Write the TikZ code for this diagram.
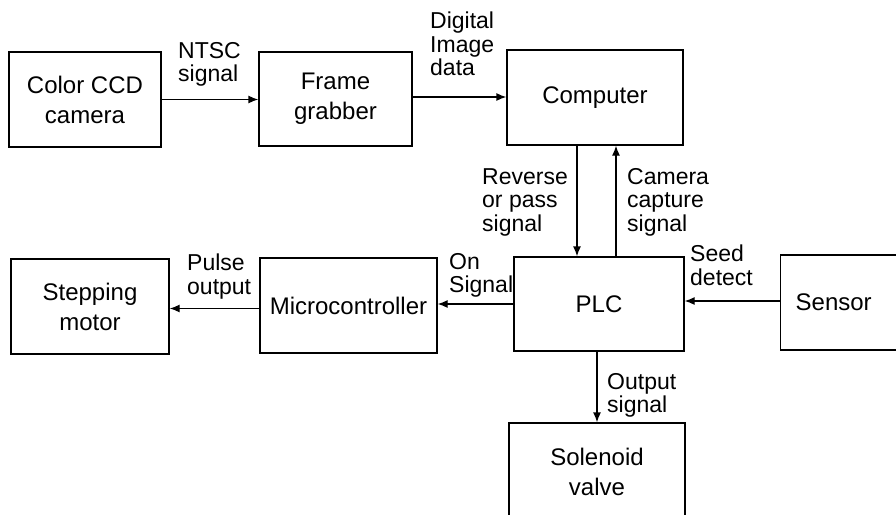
\documentclass[tikz,border=0pt]{standalone}
\usepackage{fontspec}
\setmainfont{Liberation Sans}
\usetikzlibrary{arrows.meta}
\begin{document}
\begin{tikzpicture}[x=1pt,y=-1pt,
  box/.style={draw, line width=1.3pt, inner sep=0pt, align=center,
    font=\fontsize{24}{30}\selectfont},
  lbl/.style={inner sep=0pt, align=left, anchor=north west,
    font=\fontsize{23}{23.5}\selectfont},
  arr/.style={line width=1.3pt, -{Latex[length=10pt,width=8pt]}}]
\useasboundingbox (0,0) rectangle (896,514);
\clip (0,0) rectangle (896,514);
% boxes
\node[box, minimum width=152, minimum height=95] (cam) at (85,99.5) {Color CCD\\camera};
\node[box, minimum width=153, minimum height=94] (fg) at (335.5,99) {Frame\\grabber};
\node[box, minimum width=176, minimum height=95] (comp) at (595,97.5) {Computer};
\node[box, minimum width=158, minimum height=95] (step) at (90,306.5) {Stepping\\motor};
\node[box, minimum width=177, minimum height=95] (mc) at (348.5,305.5) {Microcontroller};
\node[box, minimum width=170, minimum height=94] (plc) at (599,304) {PLC};
\node[box, minimum width=130, minimum height=95, text width=100, align=left, inner xsep=15, anchor=west] (sensor) at (780,302.5) {Sensor};
\node[box, minimum width=176, minimum height=97] (sol) at (597,471.5) {Solenoid\\valve};
% connectors
\draw[arr] (cam.east) -- (cam.east -| fg.west);
\draw[arr] ([yshift=2]fg.east) -- ([yshift=2]fg.east -| comp.west);
\draw[arr] ([xshift=-18]comp.south) -- ([xshift=-18]comp.south |- plc.north);
\draw[arr] ([xshift=17]plc.north) -- ([xshift=17]plc.north |- comp.south);
\draw[arr] (plc.west) -- (plc.west -| mc.east);
\draw[arr] ([yshift=-3]mc.west) -- ([yshift=-3]mc.west -| step.east);
\draw[arr] ([yshift=1.5]sensor.west) -- ([yshift=1.5]sensor.west -| plc.east);
\draw[arr] ([xshift=-2]plc.south) -- ([xshift=-2]plc.south |- sol.north);
% labels
\node[lbl] (l1) at (178,42) {NTSC\\signal};
\node[lbl] (l2) at (430,12) {Digital\\Image\\data};
\node[lbl] (l3) at (482,168) {Reverse\\or pass\\signal};
\node[lbl] (l4) at (627,168) {Camera\\capture\\signal};
\node[lbl] (l5) at (690,245) {Seed\\detect};
\node[lbl] (l6) at (449,253) {On\\Signal};
\node[lbl] (l7) at (187,254) {Pulse\\output};
\node[lbl] (l8) at (607,373) {Output\\signal};
\end{tikzpicture}
\end{document}
